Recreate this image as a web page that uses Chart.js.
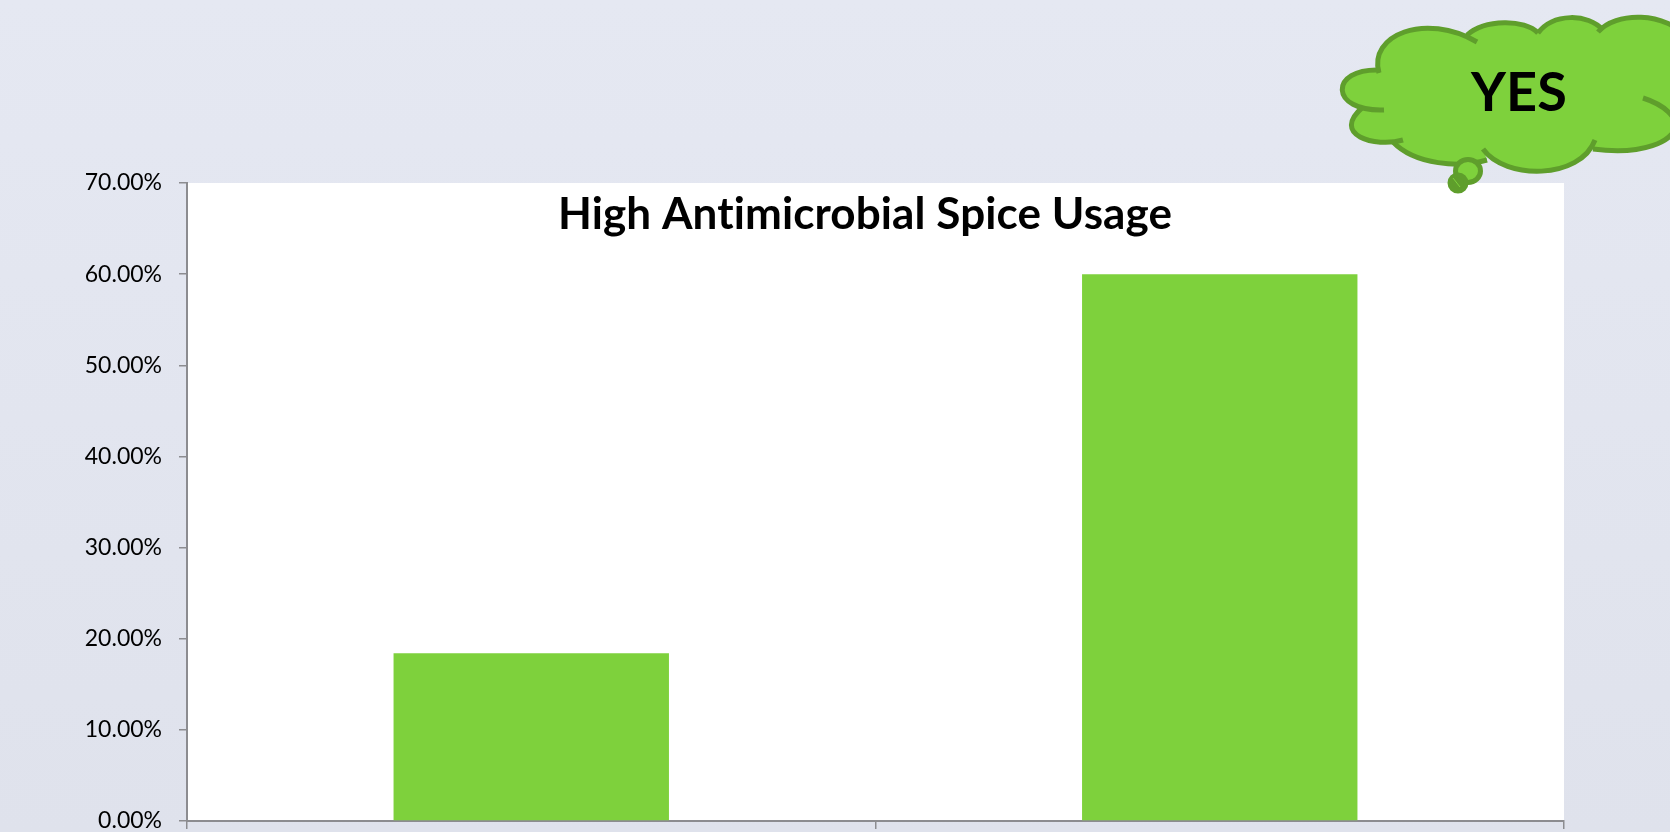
<!DOCTYPE html>
<html>
<head>
<meta charset="utf-8">
<title>High Antimicrobial Spice Usage</title>
<script src="https://cdn.jsdelivr.net/npm/chart.js@4/dist/chart.umd.min.js"></script>
<style>
  html, body { margin: 0; padding: 0; width: 1670px; height: 832px; overflow: hidden;
    background: linear-gradient(180deg, #e5e8f2 0%, #dfe2ec 100%); }
  #wrap { position: absolute; left: 0; top: 0; width: 1670px; height: 832px; }
</style>
</head>
<body>
<div id="wrap"><canvas id="chart" width="1670" height="832"></canvas></div>
<script>
const chartTitle = 'High Antimicrobial Spice Usage';
const calloutText = 'YES';
const categories = ['', ''];
const usageValues = [18.4, 60];
const axisMin = 0;
const axisMax = 70;
const axisStep = 10;

const FONT = 'Lato, Carlito, Calibri, sans-serif';
const CLOUD_FILL = '#7ed13c';
const CLOUD_EDGE = '#5f9e2c';
const AXIS_GREY = '#8c8c90';

// Thought-bubble outline: each entry is one lobe, [start, ctrl1, ctrl2, end].
const cloudLobes = [
  [[1379,73],[1368,35],[1425,12],[1477,42]],
  [[1467,35],[1485,19],[1525,19],[1538,33]],
  [[1538,33],[1553,13],[1588,13],[1603,30]],
  [[1598,32],[1615,12],[1665,10],[1690,40]],
  [[1643,98],[1665,105],[1678,118],[1675,128]],
  [[1675,128],[1672,140],[1645,156],[1593,149]],
  [[1595,140],[1580,180],[1505,180],[1483,149]],
  [[1487,160],[1460,168],[1415,165],[1393,142]],
  [[1403,140],[1375,148],[1330,135],[1363,107]],
  [[1384,110],[1329,112],[1329,68],[1380,70]]
];
// The inner lobe at the right edge is only a stroke; the body runs off the page behind it.
const strokeOnlyLobe = 4;

const backdrop = {
  id: 'backdrop',
  beforeDraw(chart) {
    const { ctx, chartArea: a } = chart;
    ctx.save();
    ctx.fillStyle = '#ffffff';
    ctx.fillRect(a.left, a.top, a.right - a.left, a.bottom - a.top);
    ctx.restore();
  }
};

const annotations = {
  id: 'annotations',
  afterDraw(chart) {
    const { ctx } = chart;
    ctx.save();
    // heading sits inside the plot area
    ctx.fillStyle = '#000000';
    ctx.font = 'bold 44px ' + FONT;
    ctx.letterSpacing = '0.1px';
    ctx.textAlign = 'center';
    ctx.textBaseline = 'middle';
    ctx.fillText(chartTitle, 865, 215);

    // cloud body
    ctx.beginPath();
    cloudLobes.forEach((l, i) => {
      if (i === strokeOnlyLobe) { ctx.lineTo(1700, 128); return; }
      if (i === 0) ctx.moveTo(l[0][0], l[0][1]); else ctx.lineTo(l[0][0], l[0][1]);
      ctx.bezierCurveTo(l[1][0], l[1][1], l[2][0], l[2][1], l[3][0], l[3][1]);
    });
    ctx.closePath();
    ctx.fillStyle = CLOUD_FILL;
    ctx.fill();

    // cloud outline
    ctx.strokeStyle = CLOUD_EDGE;
    ctx.lineWidth = 5;
    ctx.lineCap = 'butt';
    cloudLobes.forEach(l => {
      ctx.beginPath();
      ctx.moveTo(l[0][0], l[0][1]);
      ctx.bezierCurveTo(l[1][0], l[1][1], l[2][0], l[2][1], l[3][0], l[3][1]);
      ctx.stroke();
    });

    // trailing bubbles
    ctx.beginPath();
    ctx.ellipse(1468, 171, 12.5, 11.5, 0, 0, Math.PI * 2);
    ctx.fillStyle = CLOUD_FILL;
    ctx.fill();
    ctx.stroke();
    ctx.beginPath();
    ctx.ellipse(1458, 183, 8, 8, 0, 0, Math.PI * 2);
    ctx.fillStyle = CLOUD_EDGE;
    ctx.fill();
    ctx.stroke();
    ctx.beginPath();
    ctx.strokeStyle = CLOUD_FILL;
    ctx.lineWidth = 1;
    ctx.moveTo(1453, 178);
    ctx.lineTo(1460, 187);
    ctx.stroke();

    ctx.fillStyle = '#000000';
    ctx.font = 'bold 54px ' + FONT;
    ctx.fillText(calloutText, 1519, 94);
    ctx.restore();
  }
};

new Chart(document.getElementById('chart'), {
  type: 'bar',
  data: {
    labels: categories,
    datasets: [{
      data: usageValues,
      backgroundColor: CLOUD_FILL,
      borderWidth: 0,
      categoryPercentage: 1,
      barPercentage: 0.4
    }]
  },
  options: {
    responsive: false,
    animation: false,
    layout: { padding: { left: 0, right: 106, top: 183, bottom: 0 } },
    plugins: { legend: { display: false }, tooltip: { enabled: false }, title: { display: false } },
    scales: {
      x: {
        afterFit(s) { s.height = 11; s.paddingLeft = 0; s.paddingRight = 0; },
        border: { display: true, color: AXIS_GREY, width: 2 },
        grid: { display: true, drawOnChartArea: false, drawTicks: true, tickLength: 8, color: AXIS_GREY, lineWidth: 1.5, offset: true },
        ticks: { display: false }
      },
      y: {
        min: axisMin,
        max: axisMax,
        afterFit(s) { s.width = 187; s.paddingTop = 0; s.paddingBottom = 0; },
        border: { display: true, color: AXIS_GREY, width: 2 },
        grid: { display: true, drawOnChartArea: false, drawTicks: true, tickLength: 8, color: AXIS_GREY, lineWidth: 1.5 },
        ticks: {
          stepSize: axisStep,
          color: '#000000',
          padding: 17,
          font: { family: FONT, size: 23 },
          callback: v => v.toFixed(2) + '%'
        }
      }
    }
  },
  plugins: [backdrop, annotations]
});
</script>
</body>
</html>
